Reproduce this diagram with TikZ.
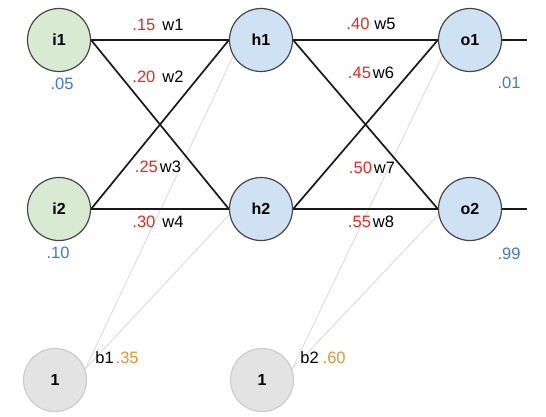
\documentclass[tikz,border=0pt]{standalone}
\usepackage{fontspec}
\setmainfont{Liberation Sans}
\usetikzlibrary{backgrounds}
\definecolor{wred}{HTML}{E8281E}
\definecolor{vblue}{HTML}{3C78D8}
\definecolor{borange}{HTML}{E69138}
\definecolor{ingreen}{HTML}{D9EAD3}
\definecolor{hidblue}{HTML}{CFE2F3}
\definecolor{biasgray}{HTML}{E3E3E3}
\definecolor{edgegray}{HTML}{454545}
\begin{document}
\begin{tikzpicture}[x=1pt,y=-1pt,
  neuron/.style={circle,draw=edgegray,line width=1.2pt,minimum size=63pt,inner sep=0pt,font=\fontsize{16}{18}\selectfont\bfseries},
  innode/.style={neuron,fill=ingreen},
  hidnode/.style={neuron,fill=hidblue},
  biasnode/.style={neuron,fill=biasgray,draw=black!20},
  wline/.style={line width=1.7pt,black!90},
  bline/.style={line width=1pt,black!13},
  wlab/.style={font=\fontsize{16.5}{18}\selectfont,inner sep=0pt},
  vlab/.style={font=\fontsize{16.5}{18}\selectfont,inner sep=0pt,text=vblue}
]
\useasboundingbox (0,0) rectangle (546,416);
\node[biasnode] (b1) at (55,380) {1};
\node[biasnode] (b2) at (262,380) {1};
\node[hidnode] (h1) at (261,40) {h1};
\node[hidnode] (h2) at (261,209) {h2};
\node[hidnode] (o1) at (470,40) {o1};
\node[hidnode] (o2) at (470,209) {o2};
\node[innode] (i1) at (59,40) {i1};
\node[innode] (i2) at (59,209) {i2};
\coordinate (out1) at (527,40);
\coordinate (out2) at (527,209);
\begin{scope}[on background layer]
\draw[bline] (b1.20) -- (h1.210);
\draw[bline] (b1.20) -- (h2.190);
\draw[bline] (b2.20) -- (o1.210);
\draw[bline] (b2.20) -- (o2.190);
\draw[wline] (i1.east) -- (h1.west);
\draw[wline] (i1.east) -- (h2.west);
\draw[wline] (i2.east) -- (h1.west);
\draw[wline] (i2.east) -- (h2.west);
\draw[wline] (h1.east) -- (o1.west);
\draw[wline] (h1.east) -- (o2.west);
\draw[wline] (h2.east) -- (o1.west);
\draw[wline] (h2.east) -- (o2.west);
\draw[wline] (o1.east) -- (out1);
\draw[wline] (o2.east) -- (out2);
\end{scope}
% weight labels
\node[wlab] (l1) at (158,25) {\textcolor{wred}{.15}\hspace{7pt}w1};
\node[wlab] (l2) at (158,77) {\textcolor{wred}{.20}\hspace{7pt}w2};
\node[wlab] (l3) at (158,167) {\textcolor{wred}{.25}\hspace{2pt}w3};
\node[wlab] (l4) at (158,222) {\textcolor{wred}{.30}\hspace{7pt}w4};
\node[wlab] (l5) at (371,24) {\textcolor{wred}{.40}\hspace{5pt}w5};
\node[wlab] (l6) at (371,73) {\textcolor{wred}{.45}\hspace{2pt}w6};
\node[wlab] (l7) at (372,168) {\textcolor{wred}{.50}\hspace{2pt}w7};
\node[wlab] (l8) at (371,222) {\textcolor{wred}{.55}\hspace{2pt}w8};
% values
\node[vlab] (v1) at (62,84) {.05};
\node[vlab] (v2) at (58,253) {.10};
\node[vlab] (v3) at (509,83) {.01};
\node[vlab] (v4) at (509,254) {.99};
% bias labels
\node[wlab] (bl1) at (117,358) {b1\hspace{2pt}\textcolor{borange}{.35}};
\node[wlab] (bl2) at (323,358) {b2\hspace{4pt}\textcolor{borange}{.60}};
\end{tikzpicture}
\end{document}
